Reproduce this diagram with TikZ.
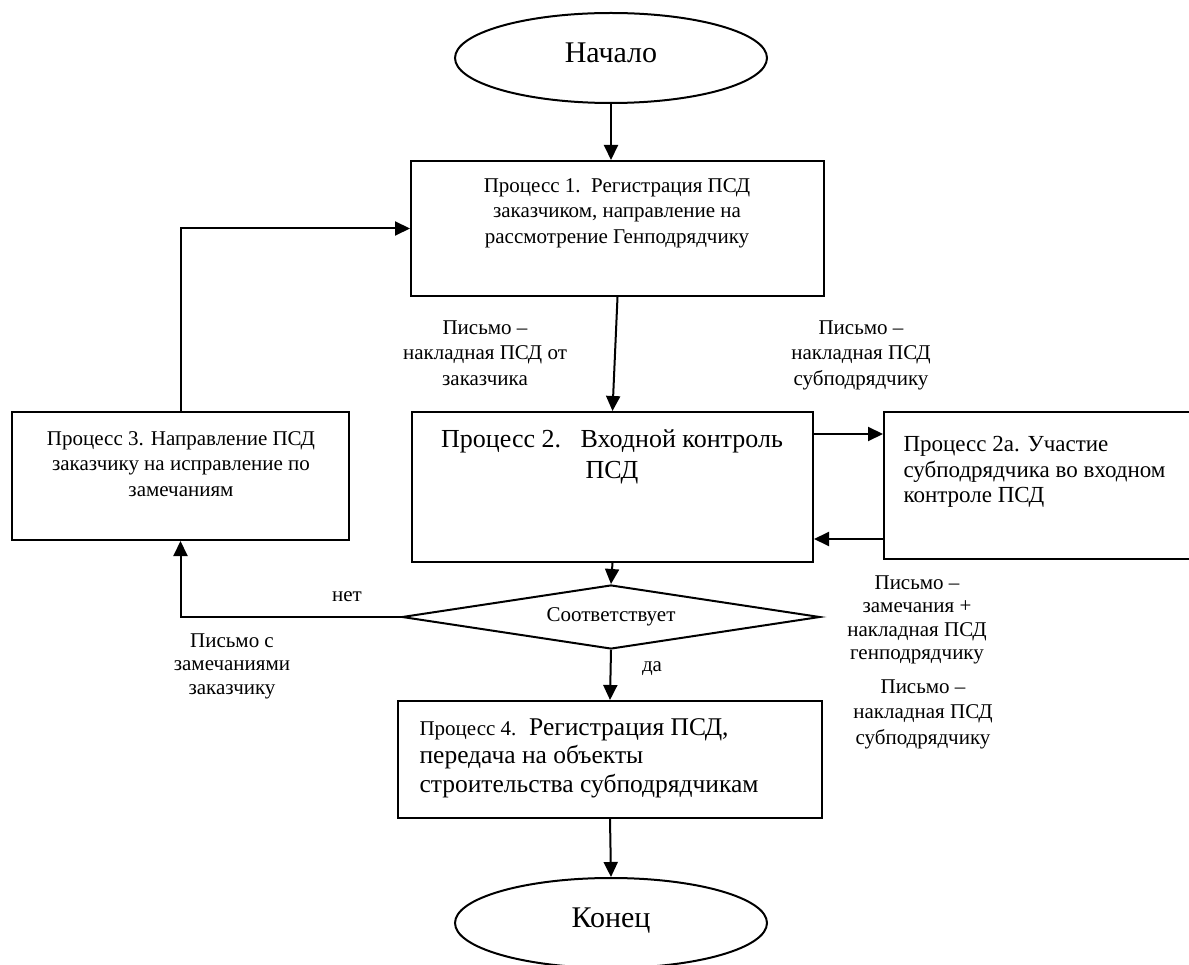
\documentclass[tikz,border=0pt]{standalone}
\usepackage{fontspec}
\setmainfont{Liberation Serif}
\usetikzlibrary{shapes.geometric,arrows.meta}
\begin{document}
\begin{tikzpicture}[x=1pt,y=-1pt]
\tikzstyle{boite} = [draw,line width=2pt,inner sep=0pt] %cadres
\tikzstyle{petit} = [font=\fontsize{21}{25.5}\selectfont,align=center] %petit texte
\tikzstyle{grand} = [font=\fontsize{25.5}{28.5}\selectfont] %grand texte
\tikzstyle{fleche} = [line width=2pt,-{Triangle[length=15pt,width=14pt]}]

\useasboundingbox (0,0) rectangle (1189,965);
\clip (0,0) rectangle (1189,965);

%debut et fin
\node[boite,ellipse,minimum width=312pt,minimum height=90pt,font=\fontsize{30}{36}\selectfont,text depth=10pt] (debut) at (611,58) {Начало};
\node[boite,ellipse,minimum width=312pt,minimum height=90pt,font=\fontsize{30}{36}\selectfont,text depth=10pt] (fin) at (611,923) {Конец};

%processus
\node[boite,minimum width=413pt,minimum height=135pt] (p1) at (617.5,228.5) {};
\node[petit] (t1) at (617,213) {Процесс 1.\ \ Регистрация ПСД\\заказчиком, направление на\\рассмотрение Генподрядчику};

\node[boite,minimum width=401pt,minimum height=150pt] (p2) at (612.5,487) {};
\node[grand,font=\fontsize{26}{30.5}\selectfont,align=center] (t2) at (612,457) {Процесс 2.\ \ \ Входной контроль\\ПСД};

\node[boite,minimum width=340pt,minimum height=147pt] (p2a) at (1054,485.5) {};
\node[grand,font=\fontsize{23}{25.5}\selectfont,align=left,anchor=west] (t2a) at (900,472) {Процесс 2а. Участие\\субподрядчика во входном\\контроле ПСД};

\node[boite,minimum width=337pt,minimum height=128pt] (p3) at (180.5,476) {};
\node[petit] (t3) at (181,464) {Процесс 3. Направление ПСД\\заказчику на исправление по\\замечаниям};

\node[boite,diamond,aspect=6.5,minimum width=418pt,minimum height=64pt,petit] (d) at (611,617) {Соответствует};

\node[boite,minimum width=424pt,minimum height=117pt] (p4) at (610,759.5) {};
\node[grand,align=left,anchor=west] (t4) at (416,758) {{\fontsize{21}{25}\selectfont Процесс 4.}\ \ Регистрация ПСД,\\передача на объекты\\строительства субподрядчикам};

%textes des fleches
\node[petit] (l1) at (485,353) {Письмо –\\накладная ПСД от\\заказчика};
\node[petit] (l2) at (861,355) {Письмо –\\накладная ПСД\\субподрядчику};
\node[petit,font=\fontsize{21}{23.5}\selectfont] (l3) at (917,620) {Письмо –\\замечания +\\накладная ПСД\\генподрядчику};
\node[petit] (l4) at (923,714) {Письмо –\\накладная ПСД\\субподрядчику};
\node[petit,font=\fontsize{21}{23.5}\selectfont] (l5) at (232,666) {Письмо с\\замечаниями\\заказчику};
\node[petit] (non) at (347,597) {нет};
\node[petit] (oui) at (652,669) {да};

%fleches
\draw[fleche] (debut.south) -- (debut.south |- p1.north);
\draw[fleche] (p1.south) -- (p2.north);
\draw[fleche] ([yshift=-23pt]p2.north east) -- ([yshift=-23pt]p2a.north west);
\draw[fleche] ([yshift=21pt]p2a.south west) -- ([yshift=24pt]p2.south east);
\draw[fleche] (p2.south) -- (d.north);
\draw[fleche] (d.west) -| (p3.south);
\draw[fleche] (p3.north) |- (p1.west);
\draw[fleche] (d.south) -- (p4.north);
\draw[fleche] (p4.south) -- (fin.north);
\end{tikzpicture}
\end{document}
